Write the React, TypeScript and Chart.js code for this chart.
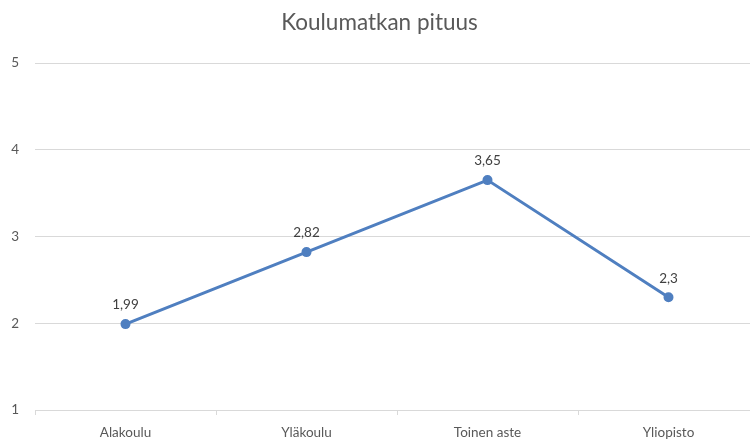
import React, { useEffect, useRef } from "react";
import { Chart, registerables } from "chart.js";

Chart.register(...registerables);

const titleText = "Koulumatkan pituus";
const categories = ["Alakoulu", "Yläkoulu", "Toinen aste", "Yliopisto"];
const values = [1.99, 2.82, 3.65, 2.3];
const valueLabels = ["1,99", "2,82", "3,65", "2,3"];
const yTicks = [1, 2, 3, 4, 5];

const FONT = "Lato, 'Open Sans', sans-serif";

const labelPlugin = {
  id: "valueLabels",
  afterDatasetsDraw(chart: any) {
    const ctx = chart.ctx;
    const meta = chart.getDatasetMeta(0);
    ctx.save();
    ctx.font = `13.5px ${FONT}`;
    ctx.fillStyle = "#404040";
    ctx.textAlign = "center";
    ctx.textBaseline = "middle";
    meta.data.forEach((pt: any, i: number) => {
      ctx.fillText(valueLabels[i], pt.x, pt.y - 19);
    });
    ctx.restore();
  },
};

export default function App() {
  const ref = useRef<HTMLCanvasElement>(null);
  useEffect(() => {
    document.body.style.margin = "0";
    const chart = new Chart(ref.current!, {
      type: "line",
      data: {
        labels: categories,
        datasets: [
          {
            data: values,
            borderColor: "#4f7fc0",
            backgroundColor: "#4f7fc0",
            borderWidth: 3,
            pointRadius: 3.5,
            pointHoverRadius: 3.5,
            tension: 0,
          },
        ],
      },
      options: {
        responsive: false,
        animation: false,
        layout: { padding: { left: 0, right: 21, top: 0, bottom: 0 } },
        plugins: {
          legend: { display: false },
          tooltip: { enabled: false },
          title: {
            display: true,
            text: titleText,
            color: "#595959",
            font: { family: FONT, size: 22.5, weight: "normal" },
            padding: { top: 9, bottom: 27 },
          },
        },
        scales: {
          x: {
            offset: true,
            afterFit: (s: any) => {
              s.height = 30;
            },
            grid: {
              offset: true,
              drawOnChartArea: false,
              drawTicks: true,
              tickLength: 5,
              color: "#d9d9d9",
            },
            border: { color: "#d9d9d9" },
            ticks: {
              color: "#595959",
              font: { family: FONT, size: 13.5 },
              padding: 10,
            },
          },
          y: {
            min: 1,
            max: 5,
            afterBuildTicks: (s: any) => {
              s.ticks = yTicks.map((v) => ({ value: v }));
            },
            afterFit: (s: any) => {
              s.width = 35;
            },
            grid: { color: "#d9d9d9", drawTicks: false },
            border: { display: false },
            ticks: {
              color: "#595959",
              font: { family: FONT, size: 13.5 },
              padding: 16,
            },
          },
        },
      },
      plugins: [labelPlugin],
    });
    return () => chart.destroy();
  }, []);
  return (
    <div style={{ width: 750, height: 440, overflow: "hidden", background: "#fff" }}>
      <canvas ref={ref} width={780} height={440} style={{ display: "block" }} />
    </div>
  );
}
